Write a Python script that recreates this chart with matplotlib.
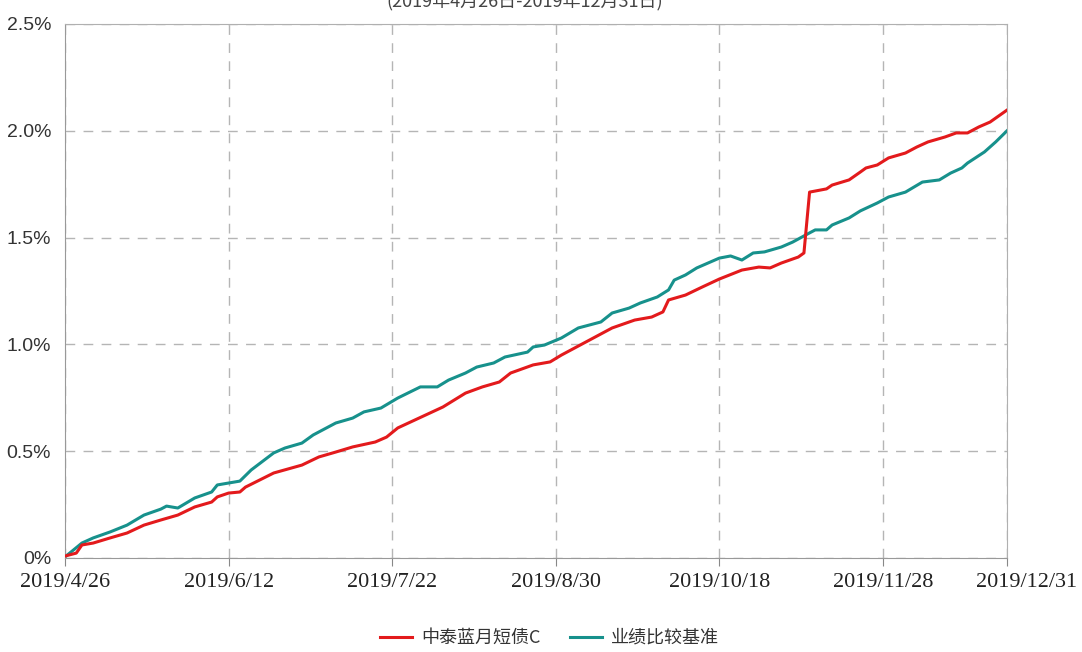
import matplotlib.pyplot as plt
import matplotlib.transforms as mtransforms

plt.rcParams['font.family'] = ['Noto Sans CJK SC', 'DejaVu Sans']

# trading-day index (0 = 2019/4/26) and cumulative return in %
fund_idx = [0, 2, 3, 5, 8, 11, 14, 17, 20, 23, 26, 27, 29, 31, 32, 37, 42, 45, 48, 51, 55, 57, 59,
            67, 71, 74, 77, 79, 83, 86, 88, 97, 101, 104, 106, 107, 110, 113, 116, 120, 123, 125,
            127, 130, 131, 132, 135, 136, 139, 141, 142, 144, 146, 149, 151, 153, 156, 158, 160,
            162, 164, 167]
fund_val = [0.009, 0.023, 0.061, 0.070, 0.094, 0.117, 0.154, 0.178, 0.201, 0.239, 0.262, 0.286,
            0.304, 0.309, 0.332, 0.398, 0.435, 0.473, 0.496, 0.520, 0.543, 0.566, 0.609,
            0.707, 0.772, 0.801, 0.824, 0.866, 0.904, 0.918, 0.950, 1.077, 1.114, 1.128, 1.152,
            1.208, 1.231, 1.269, 1.306, 1.348, 1.362, 1.358, 1.381, 1.409, 1.428, 1.713, 1.728,
            1.746, 1.770, 1.807, 1.826, 1.840, 1.873, 1.896, 1.924, 1.948, 1.971, 1.990, 1.990,
            2.018, 2.041, 2.097]

bench_idx = [0, 3, 5, 8, 11, 14, 17, 18, 20, 23, 26, 27, 29, 31, 33, 37, 39, 42, 44, 48, 51, 53,
             56, 59, 63, 66, 68, 71, 73, 76, 78, 82, 83, 85, 88, 91, 95, 97, 100, 102, 105, 107,
             108, 110, 112, 116, 118, 120, 122, 124, 127, 129, 132, 133, 135, 136, 139, 141, 144,
             146, 149, 152, 155, 157, 159, 160, 163, 165, 167]
bench_val = [0.005, 0.070, 0.094, 0.122, 0.154, 0.201, 0.229, 0.243, 0.234, 0.281, 0.309, 0.342,
             0.351, 0.360, 0.412, 0.492, 0.515, 0.538, 0.576, 0.632, 0.655, 0.684, 0.702, 0.749,
             0.801, 0.801, 0.833, 0.866, 0.894, 0.913, 0.941, 0.964, 0.988, 0.997, 1.030, 1.077,
             1.105, 1.147, 1.170, 1.194, 1.222, 1.255, 1.301, 1.325, 1.358, 1.404, 1.414, 1.395,
             1.428, 1.433, 1.456, 1.479, 1.522, 1.536, 1.536, 1.559, 1.592, 1.625, 1.662, 1.690,
             1.713, 1.760, 1.770, 1.802, 1.826, 1.849, 1.901, 1.948, 2.000]

tick_pos = [0, 29, 58, 87, 116, 145, 167]
tick_labels = ['2019/4/26', '2019/6/12', '2019/7/22', '2019/8/30', '2019/10/18', '2019/11/28', '2019/12/31']
y_ticks = [0, 0.5, 1.0, 1.5, 2.0, 2.5]
y_labels = ['0%', '0.5%', '1.0%', '1.5%', '2.0%', '2.5%']

fig = plt.figure(figsize=(10.82, 6.52), dpi=100)
ax = fig.add_axes([65/1082, 94/652, 942/1082, 534/652])

ax.plot(fund_idx, fund_val, color='#e31a1c', lw=2.2, label='中泰蓝月短债C', zorder=3)
ax.plot(bench_idx, bench_val, color='#17918c', lw=2.2, label='业绩比较基准', zorder=2)

ax.set_xlim(0, 167)
ax.set_ylim(0, 2.5)
ax.set_xticks(tick_pos)
ax.set_xticklabels(tick_labels, family=['Liberation Serif', 'DejaVu Sans'], fontsize=16, color='#222222')
ax.set_yticks(y_ticks)
ax.set_yticklabels(y_labels, family=['Liberation Sans Narrow', 'Liberation Sans'], fontsize=14, color='#333333')
ax.tick_params(axis='x', length=6, color='#888888', pad=5)
ax.tick_params(axis='y', length=0, pad=10)
ax.grid(True, ls=(0, (7, 6)), color='#b5b5b5', lw=1)
for s in ax.spines.values():
    s.set_color('#b0b0b0')
ax.spines['left'].set_color('#999999')
ax.spines['bottom'].set_color('#999999')

# last date label sits right of its tick
last = ax.get_xticklabels()[-1]
last.set_transform(last.get_transform() + mtransforms.ScaledTranslation(0.2, 0, fig.dpi_scale_trans))

fig.text(0.485, 1 - 1/652, '(2019年4月26日-2019年12月31日)', ha='center', va='center',
         fontsize=13, color='#444444')

fig.legend(loc='center', bbox_to_anchor=(0.508, 1 - 638/652), ncol=2, frameon=False,
           fontsize=13, handlelength=1.8, columnspacing=1.6, handletextpad=0.5,
           labelcolor='#333333')

fig.savefig('out.png', dpi=100)
